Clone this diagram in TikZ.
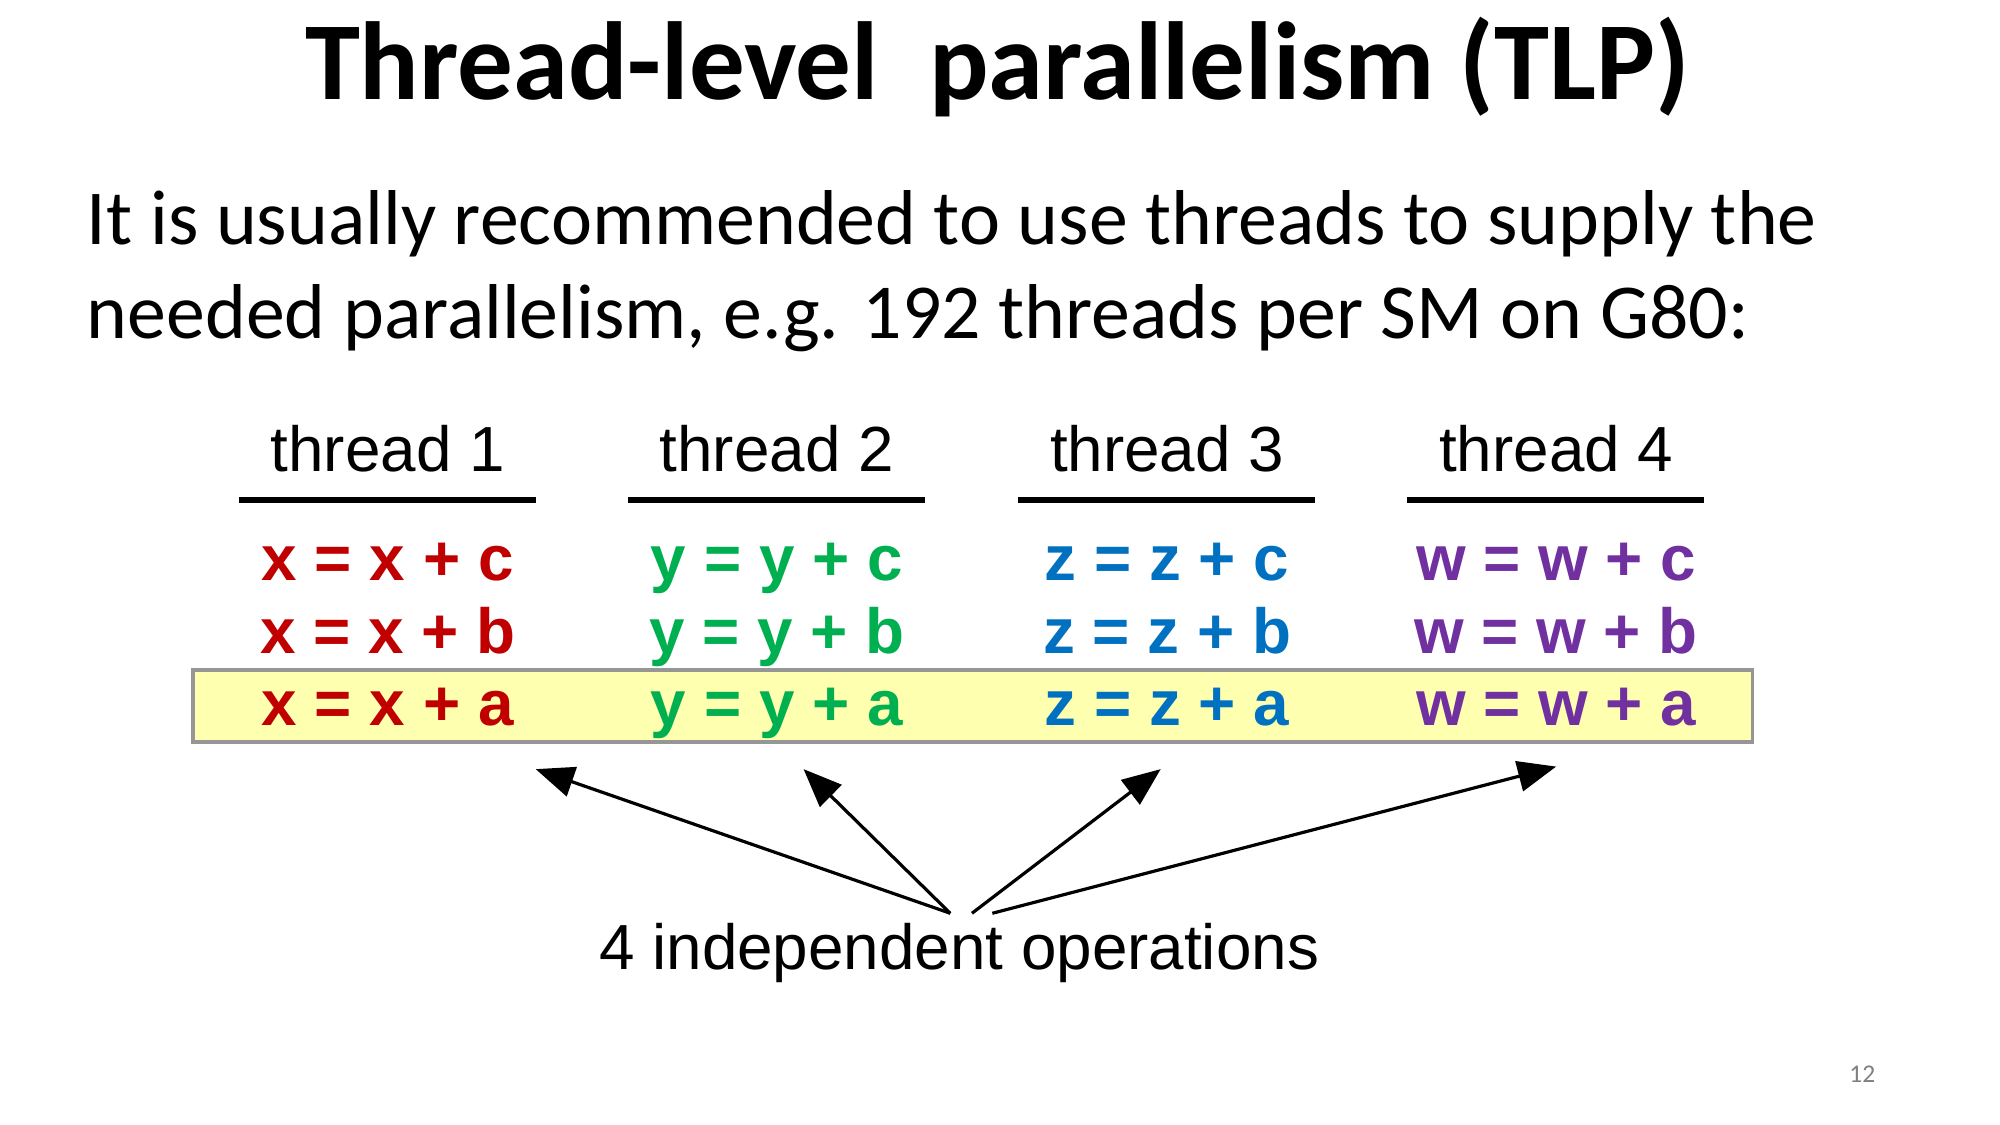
\documentclass[tikz,border=0pt]{standalone}
\usepackage{fontspec}
\setmainfont{Carlito}
\newfontfamily\arial{Liberation Sans}
\usetikzlibrary{arrows.meta}
\definecolor{cr}{RGB}{192,0,0}
\definecolor{cg}{RGB}{0,176,80}
\definecolor{cb}{RGB}{0,112,192}
\definecolor{cp}{RGB}{112,48,160}
\definecolor{yel}{RGB}{255,255,176}
\begin{document}
\begin{tikzpicture}[x=1pt,y=-1pt,
  lbl/.style={font=\arial\fontsize{50}{60}\selectfont,inner sep=0pt,anchor=base},
  code/.style={font=\arial\bfseries\fontsize{50}{60}\selectfont,inner sep=0pt,anchor=base},
  uline/.style={line width=4pt},
  arr/.style={line width=2.5pt,-{Triangle[length=30pt,width=24pt]}}]
\useasboundingbox[fill=white] (0,0) rectangle (1568,882);
\node[inner sep=0pt,anchor=base,font=\bfseries\fontsize{87}{90}\selectfont] (title) at (782,78) {Thread-level\ \ parallelism (TLP)};
\node[inner sep=0pt,anchor=base west,font=\fontsize{61}{74}\selectfont] (body1) at (68,192) {It is usually recommended to use threads to supply the};
\node[inner sep=0pt,anchor=base west,font=\fontsize{61}{74}\selectfont] (body2) at (68,265) {needed parallelism, e.g. 192 threads per SM on G80:};
\node[draw={rgb,255:red,150;green,150;blue,150},line width=3pt,fill=yel,minimum width=1223pt,minimum height=57pt,inner sep=0pt] (box) at (762.5,553.5) {};
\foreach \i/\x/\v/\c in {1/304/x/cr,2/609/y/cg,3/915/z/cb,4/1220/w/cp}{
  \node[lbl] (t\i) at (\x,370) {thread \i};
  \draw[uline] (\x-117,392) coordinate (ua\i) -- (\x+116,392) coordinate (ub\i);
  \node[code,text=\c] (c\i) at (\x,455) {\v\ = \v\ + c};
  \node[code,text=\c] (b\i) at (\x,512) {\v\ = \v\ + b};
  \node[code,text=\c] (a\i) at (\x,569) {\v\ = \v\ + a};
}
\node[lbl] (ops) at (752,760) {4 independent operations};
\coordinate (s1) at (745,716); \coordinate (s2) at (745,716);
\coordinate (s3) at (762,716); \coordinate (s4) at (778,716);
\coordinate (e1) at (420,603); \coordinate (e2) at (630,603);
\coordinate (e3) at (910,603); \coordinate (e4) at (1220,601);
\foreach \i in {1,...,4}{\draw[arr] (s\i) -- (e\i);}
\node[inner sep=0pt,text={rgb,255:red,128;green,128;blue,128},font=\fontsize{20}{24}\selectfont] (pg) at (1460,842) {12};
\end{tikzpicture}
\end{document}
